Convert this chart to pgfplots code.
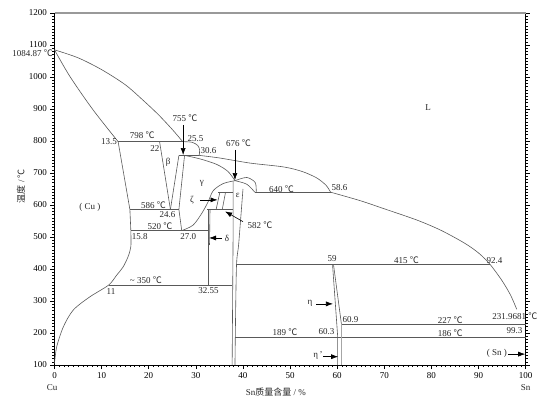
\documentclass[border=0pt]{standalone}
\usepackage{pgfplots}
\pgfplotsset{compat=1.18}
\usepackage{fontspec}
\setmainfont{Liberation Serif}
\newfontfamily\cjk{Noto Sans CJK SC}
\usetikzlibrary{arrows.meta}
\newcommand{\dc}{{\cjk ℃}}
\tikzset{
 pl/.style={color=black!65, line width=0.6bp},
 ar/.style={black, line width=0.6bp, -{Latex[length=7bp,width=5bp]}},
 lab/.style={inner sep=0pt, text=black!85},
}
\begin{document}
\begin{tikzpicture}[font=\fontsize{9bp}{10bp}\selectfont]
\useasboundingbox (0,0) rectangle (550bp,410bp);
\begin{axis}[
 at={(54.5bp,45bp)}, anchor=south west,
 scale only axis, width=471.2bp, height=352bp,
 xmin=0,xmax=100,ymin=100,ymax=1200,
 xtick={0,10,...,100}, ytick={100,200,...,1200},
 minor x tick num=9, minor y tick num=9,
 xtick pos=left, ytick pos=both, yticklabel pos=left,
 tick align=outside,
 major tick length=4bp, minor tick length=2bp,
 tick style={black, line width=0.5bp},
 axis line style={line width=0.8bp},
 /pgf/number format/assume math mode=true,
 /pgf/number format/set thousands separator={},
 ticklabel style={font=\fontsize{9bp}{10bp}\selectfont},
 clip=false,
]
% liquidus
\addplot[pl, smooth, mark=none] coordinates {(0,1084.87) (5,1060) (10,1023) (15,976) (18.6,930) (22,883) (25,836) (27.2,798)};
\addplot[pl, smooth, mark=none] coordinates {(27.2,798) (29.2,796) (30.4,786) (30.8,772) (30.7,755)};
\addplot[pl, smooth, mark=none] coordinates {(30.7,755) (35,747) (41.5,731) (48.6,719) (52.5,705) (55.6,685) (57.6,662) (58.6,640)};
\addplot[pl, smooth, mark=none] coordinates {(58.6,640) (65,613) (70,588) (76.9,553) (82,521) (87,481) (90,450) (92.4,415) (95,363) (96.8,318) (98.1,274)};
% alpha
\addplot[pl, smooth, mark=none] coordinates {(0,1084.87) (3.3,1001) (8.2,897) (13.5,798)};
\addplot[pl, mark=none] coordinates {(13.5,798) (27.2,798)};
\addplot[pl, mark=none] coordinates {(13.5,798) (16.0,586) (16.2,520)};
\addplot[pl, smooth, mark=none] coordinates {(16.2,520) (16.2,470) (15.6,438) (14.5,405) (13.2,381) (11.5,350) (7.5,313) (4.0,272) (1.9,220) (0.47,157) (0,105)};
% isotherms
\addplot[pl, mark=none] coordinates {(16.0,586) (26.4,586)};
\addplot[pl, mark=none] coordinates {(16.2,520) (32.55,520)};
\addplot[pl, mark=none] coordinates {(11.5,350) (37.7,350)};
\addplot[pl, mark=none] coordinates {(26.4,755) (30.7,755)};
% beta
\addplot[pl, mark=none] coordinates {(22.3,798) (24.6,586)};
\addplot[pl, mark=none] coordinates {(26.4,755) (24.6,586)};
\addplot[pl, mark=none] coordinates {(27.6,755) (26.4,586) (27.0,520)};
% gamma
\addplot[pl, smooth, mark=none] coordinates {(27.6,755) (30.9,744) (34.4,727) (36.8,705) (38.3,676)};
\addplot[pl, smooth, mark=none] coordinates {(38.3,676) (35.8,667) (33.7,645) (32.6,610) (31.3,575) (29.4,537) (27.0,520)};
\addplot[pl, smooth, mark=none] coordinates {(38.3,676) (40.8,665) (42.5,640)};
\addplot[pl, smooth, mark=none] coordinates {(38.3,676) (40.8,686) (42.6,670) (42.8,640)};
\addplot[pl, mark=none] coordinates {(42.5,640) (58.6,640)};
\addplot[pl, mark=none] coordinates {(34.7,640) (37.9,640)};
% epsilon
\addplot[pl, mark=none] coordinates {(37.9,674) (37.9,500) (37.7,100)};
\addplot[pl, smooth, mark=none] coordinates {(40.0,650) (39.1,480) (38.6,400) (38.3,100)};
% delta, zeta
\addplot[pl, mark=none] coordinates {(32.55,586) (32.55,350)};
\addplot[pl, mark=none] coordinates {(33.0,586) (32.9,475)};
\addplot[pl, mark=none] coordinates {(32.4,586) (37.9,586)};
\addplot[pl, mark=none] coordinates {(34.3,586) (35.1,640)};
\addplot[pl, mark=none] coordinates {(35.6,586) (36.3,640)};
% eta
\addplot[pl, mark=none] coordinates {(38.6,415) (92.4,415)};
\addplot[pl, mark=none] coordinates {(38.3,186) (100,186)};
\addplot[pl, mark=none] coordinates {(60.9,227) (100,227)};
\addplot[pl, mark=none] coordinates {(59.0,415) (60.1,189) (60.1,100)};
\addplot[pl, mark=none] coordinates {(59.2,415) (60.9,227)};
\addplot[color=black!35, line width=1.6bp, mark=none] coordinates {(60.9,227) (60.9,100)};
% top border
\draw[black!40, line width=1.6bp] (rel axis cs:0,1) -- (rel axis cs:1,1);
% arrows
\draw[ar] (axis cs:27.3,850) -- (axis cs:27.3,756);
\draw[ar] (axis cs:38.3,772) -- (axis cs:38.3,678);
\draw[ar] (axis cs:30.9,616) -- (axis cs:34.6,616);
\draw[ar] (axis cs:40.0,548) -- (axis cs:36.2,580);
\draw[ar] (axis cs:35.5,497) -- (axis cs:32.8,497);
\draw[ar] (axis cs:55.5,291) -- (axis cs:59.1,291);
\draw[ar] (axis cs:57.0,126) -- (axis cs:60.2,126);
\draw[ar] (axis cs:96.2,134) -- (axis cs:99.9,134);
% labels
\node[lab, anchor=east] at (axis cs:-0.3,1075) {1084.87 \dc};
\node[lab] at (axis cs:79.3,906) {L};
\node[lab] at (axis cs:7.5,594) {( Cu )};
\node[lab] at (axis cs:18.6,817) {798 \dc};
\node[lab, anchor=east] at (axis cs:13.3,797) {13.5};
\node[lab] at (axis cs:21.3,778) {22};
\node[lab] at (axis cs:27.7,872) {755 \dc};
\node[lab] at (axis cs:29.9,809) {25.5};
\node[lab] at (axis cs:32.7,769) {30.6};
\node[lab] at (axis cs:24.1,734) {β};
\node[lab] at (axis cs:39.05,794) {676 \dc};
\node[lab] at (axis cs:31.3,669) {γ};
\node[lab] at (axis cs:38.9,631) {ε};
\node[lab] at (axis cs:48.2,650) {640 \dc};
\node[lab] at (axis cs:60.5,653) {58.6};
\node[lab] at (axis cs:29.2,616) {ζ};
\node[lab] at (axis cs:21.0,600) {586 \dc};
\node[lab] at (axis cs:24.0,569) {24.6};
\node[lab] at (axis cs:43.6,537) {582 \dc};
\node[lab] at (axis cs:22.4,534) {520 \dc};
\node[lab] at (axis cs:18.1,500) {15.8};
\node[lab] at (axis cs:28.4,500) {27.0};
\node[lab] at (axis cs:36.6,497) {δ};
\node[lab] at (axis cs:19.4,366) {\char"7E\ 350 \dc};
\node[lab] at (axis cs:12.0,331) {11};
\node[lab] at (axis cs:32.7,334) {32.55};
\node[lab] at (axis cs:58.9,434) {59};
\node[lab] at (axis cs:74.7,428) {415 \dc};
\node[lab] at (axis cs:93.4,425) {92.4};
\node[lab] at (axis cs:54.2,294) {η};
\node[lab] at (axis cs:62.8,241) {60.9};
\node[lab] at (axis cs:57.7,206) {60.3};
\node[lab] at (axis cs:48.9,203) {189 \dc};
\node[lab] at (axis cs:84.0,241) {227 \dc};
\node[lab] at (axis cs:84.0,200) {186 \dc};
\node[lab] at (axis cs:97.7,253) {231.9681 \dc};
\node[lab] at (axis cs:97.6,206) {99.3};
\node[lab] at (axis cs:55.9,131) {η\,'};
\node[lab] at (axis cs:93.9,137.5) {( Sn )};
% axis labels
\node[lab] at (axis cs:-0.5,31) {Cu};
\node[lab] at (axis cs:100,28) {Sn};
\node[lab] at (axis cs:47,16) {Sn{\cjk 质量含量} / \%};
\node[lab, rotate=90] at (axis cs:-7.1,659) {{\cjk 温度} / \dc};
\end{axis}
\end{tikzpicture}
\end{document}
